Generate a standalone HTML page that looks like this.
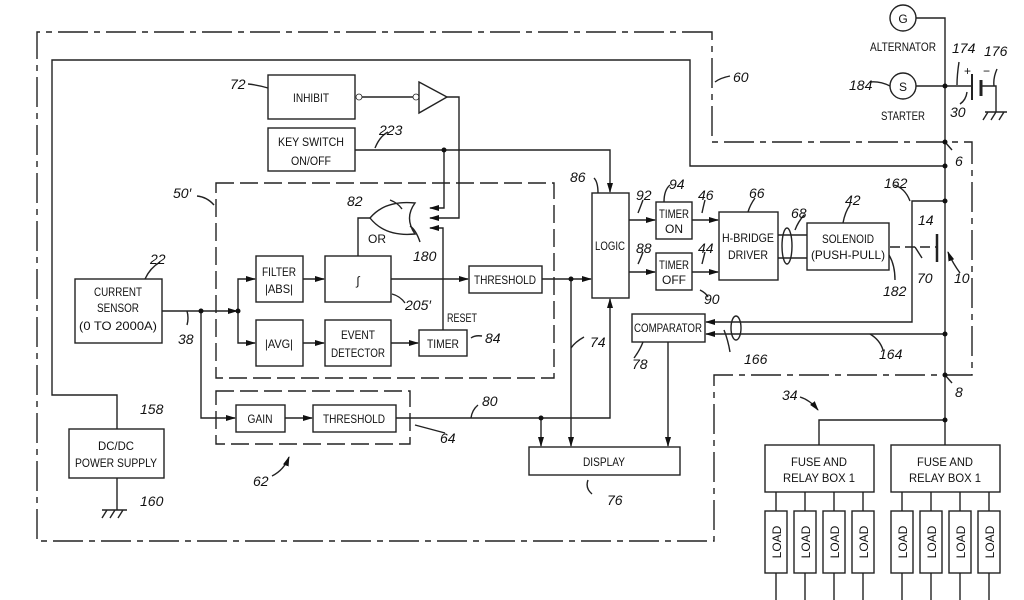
<!DOCTYPE html>
<html><head><meta charset="utf-8"><style>
html,body{margin:0;padding:0;background:#fff;}
svg{display:block}
text{font-family:"Liberation Sans Narrow","Liberation Sans",sans-serif;font-size:12px;fill:#111;}
.n{font-style:italic;font-size:14px;}
</style></head><body>
<svg width="1024" height="600" viewBox="0 0 1024 600" xmlns="http://www.w3.org/2000/svg">
<defs>
<marker id="a" markerWidth="10" markerHeight="8" refX="9" refY="4" orient="auto" markerUnits="userSpaceOnUse"><path d="M0,1 L10,4 L0,7 Z" fill="#111"/></marker>
</defs>
<g fill="none" stroke="#222" stroke-width="1.4">
<path d="M712,32 H37 V541 H714 V375 H972 V142 H712 Z" stroke-dasharray="30 6 6 6"/>
<path d="M117,429 V395 H52 V60 H690 V166 H945"/>
<path d="M916,18 H945 V445"/>
<path d="M916,86 H972 M981,86 H996 V112"/>
<path d="M972,74 V100" stroke-width="2"/>
<path d="M981,80 V96" stroke-width="3"/>
<path d="M985,112 H1007 M988,112 l-5,8 M996,112 l-5,8 M1004,112 l-5,8"/>
<circle cx="903" cy="18" r="13"/>
<circle cx="903" cy="86" r="13"/>
<path d="M945,201 H912 V322 H706" marker-end="url(#a)"/>
<path d="M945,334 H706" marker-end="url(#a)"/>
<ellipse cx="736" cy="328" rx="5" ry="12"/>
<path d="M937,234 V262" stroke-width="2.5"/>
<path d="M890,247 H937" stroke-dasharray="10 5"/>
<path d="M960,273 Q952,262 948,252" marker-end="url(#a)"/>
<rect x="268" y="75" width="87" height="44"/>
<rect x="268" y="128" width="87" height="43"/>
<circle cx="359" cy="97" r="3" stroke-width="0.8"/>
<circle cx="416" cy="97" r="3" stroke-width="0.8"/>
<path d="M362,97 H413"/>
<path d="M419,82 L447,97 L419,113 Z"/>
<path d="M447,97 H459 V218 H430" marker-end="url(#a)"/>
<path d="M355,150 H610 V192" marker-end="url(#a)"/>
<path d="M444,150 V208 H430" marker-end="url(#a)"/>
<path d="M443,330 V228 H430" marker-end="url(#a)"/>
<path d="M370,218 Q385,200 415,203 Q404,218 415,234 Q385,237 370,218 Z"/>
<path d="M370,218 H358 V256"/>
<rect x="216" y="183" width="338" height="195" stroke-dasharray="18 6"/>
<rect x="256" y="256" width="47" height="46"/>
<rect x="325" y="256" width="66" height="46"/>
<rect x="469" y="266" width="73" height="27"/>
<rect x="256" y="320" width="47" height="46"/>
<rect x="325" y="320" width="66" height="46"/>
<rect x="419" y="330" width="48" height="26"/>
<path d="M303,279 H324" marker-end="url(#a)"/>
<path d="M391,279 H468" marker-end="url(#a)"/>
<path d="M303,343 H324" marker-end="url(#a)"/>
<path d="M391,343 H418" marker-end="url(#a)"/>
<path d="M542,279 H591" marker-end="url(#a)"/>
<rect x="75" y="279" width="87" height="64"/>
<path d="M162,311 H237" marker-end="url(#a)"/>
<path d="M238,311 V279 H255" marker-end="url(#a)"/>
<path d="M238,311 V343 H255" marker-end="url(#a)"/>
<path d="M201,311 V418 H235" marker-end="url(#a)"/>
<rect x="216" y="391" width="194" height="53" stroke-dasharray="18 6"/>
<rect x="236" y="405" width="49" height="27"/>
<rect x="313" y="405" width="83" height="27"/>
<path d="M285,418 H312" marker-end="url(#a)"/>
<path d="M396,418 H610 V299" marker-end="url(#a)"/>
<path d="M541,418 V446" marker-end="url(#a)"/>
<path d="M571,279 V446" marker-end="url(#a)"/>
<path d="M668,342 V446" marker-end="url(#a)"/>
<rect x="529" y="447" width="151" height="28"/>
<rect x="592" y="193" width="37" height="105"/>
<rect x="656" y="202" width="36" height="37"/>
<rect x="656" y="253" width="36" height="37"/>
<rect x="719" y="212" width="59" height="68"/>
<rect x="807" y="223" width="82" height="47"/>
<rect x="632" y="314" width="73" height="28"/>
<path d="M629,220 H655" marker-end="url(#a)"/>
<path d="M629,272 H655" marker-end="url(#a)"/>
<path d="M692,220 H718" marker-end="url(#a)"/>
<path d="M692,272 H718" marker-end="url(#a)"/>
<path d="M778,235 H807 M778,258 H807"/>
<ellipse cx="787" cy="246" rx="5" ry="18"/>
<rect x="69" y="429" width="95" height="49"/>
<path d="M117,478 V510 M102,510 H127 M107,510 l-5,8 M115,510 l-5,8 M123,510 l-5,8"/>
<path d="M945,420 H819 V445"/>
<rect x="765" y="445" width="109" height="47"/>
<rect x="891" y="445" width="109" height="47"/>
<g>
<rect x="765" y="511" width="22" height="62"/><rect x="794" y="511" width="22" height="62"/><rect x="823" y="511" width="22" height="62"/><rect x="852" y="511" width="22" height="62"/>
<rect x="891" y="511" width="22" height="62"/><rect x="920" y="511" width="22" height="62"/><rect x="949" y="511" width="22" height="62"/><rect x="978" y="511" width="22" height="62"/>
<path d="M776,492V511M805,492V511M834,492V511M863,492V511M902,492V511M931,492V511M960,492V511M989,492V511"/>
<path d="M776,573V600M805,573V600M834,573V600M863,573V600M902,573V600M931,573V600M960,573V600M989,573V600"/>
</g>
<path d="M248,84 Q258,85 268,88 M375,148 Q380,136 388,132 M197,196 Q207,197 214,205 M390,200 Q398,203 402,209 M420,242 Q416,230 410,226 M160,262 Q150,268 145,279 M187,325 Q189,318 187,311 M392,294 Q400,296 405,303 M471,338 Q475,335 482,336 M584,337 Q575,342 571,348 M445,433 L415,425 M643,342 Q640,350 634,358 M588,480 Q585,488 592,494"/>
<path d="M471,418 Q472,410 478,405 M594,178 Q598,182 598,193 M643,200 Q640,208 638,213 M643,252 Q640,260 638,264 M670,185 Q664,190 664,202 M705,200 Q703,208 702,213 M705,252 Q703,260 702,264 M700,290 Q706,293 708,297 M755,198 Q750,205 748,212 M804,215 Q798,222 795,230 M850,205 Q845,212 843,223 M894,185 Q905,188 910,201 M895,280 Q895,265 889,255 M922,258 L915,247 M957,85 Q957,75 959,62 M960,104 Q966,100 967,92 M997,69 Q993,78 994,86 M870,82 Q880,81 890,86 M715,82 Q720,78 730,76 M945,142 L952,150 M945,375 L952,383 M730,352 Q728,340 724,330 M883,350 Q880,340 870,334"/>
<path d="M272,476 Q284,470 289,457" marker-end="url(#a)"/>
<path d="M800,397 Q810,400 818,410" marker-end="url(#a)"/>
</g>
<g fill="#111">
<circle cx="945" cy="86" r="2.5"/><circle cx="945" cy="142" r="2.5"/><circle cx="945" cy="166" r="2.5"/><circle cx="945" cy="201" r="2.5"/><circle cx="945" cy="334" r="2.5"/><circle cx="945" cy="375" r="2.5"/><circle cx="945" cy="420" r="2.5"/>
<circle cx="444" cy="150" r="2.5"/><circle cx="201" cy="311" r="2.5"/><circle cx="238" cy="311" r="2.5"/><circle cx="571" cy="279" r="2.5"/><circle cx="541" cy="418" r="2.5"/>
</g>
<g text-anchor="middle">
<text x="903" y="23" font-size="13">G</text>
<text x="903" y="91" font-size="13">S</text>
<text x="903" y="51" textLength="66" lengthAdjust="spacingAndGlyphs">ALTERNATOR</text>
<text x="903" y="120" textLength="44" lengthAdjust="spacingAndGlyphs">STARTER</text>
<text x="311" y="102" textLength="36" lengthAdjust="spacingAndGlyphs">INHIBIT</text>
<text x="311" y="146" textLength="66" lengthAdjust="spacingAndGlyphs">KEY SWITCH</text>
<text x="311" y="165" textLength="40" lengthAdjust="spacingAndGlyphs">ON/OFF</text>
<text x="279" y="276" textLength="34" lengthAdjust="spacingAndGlyphs">FILTER</text>
<text x="279" y="293" textLength="28" lengthAdjust="spacingAndGlyphs">|ABS|</text>
<text x="358" y="285" font-size="16" font-style="italic">∫</text>
<text x="505" y="284" textLength="62" lengthAdjust="spacingAndGlyphs">THRESHOLD</text>
<text x="279" y="348" textLength="28" lengthAdjust="spacingAndGlyphs">|AVG|</text>
<text x="358" y="339" textLength="34" lengthAdjust="spacingAndGlyphs">EVENT</text>
<text x="358" y="357" textLength="54" lengthAdjust="spacingAndGlyphs">DETECTOR</text>
<text x="443" y="348" textLength="32" lengthAdjust="spacingAndGlyphs">TIMER</text>
<text x="462" y="322" textLength="30" lengthAdjust="spacingAndGlyphs">RESET</text>
<text x="377" y="243">OR</text>
<text x="118" y="296" textLength="48" lengthAdjust="spacingAndGlyphs">CURRENT</text>
<text x="118" y="312" textLength="42" lengthAdjust="spacingAndGlyphs">SENSOR</text>
<text x="118" y="330" textLength="78" lengthAdjust="spacingAndGlyphs">(0 TO 2000A)</text>
<text x="260" y="423" textLength="25" lengthAdjust="spacingAndGlyphs">GAIN</text>
<text x="354" y="423" textLength="62" lengthAdjust="spacingAndGlyphs">THRESHOLD</text>
<text x="604" y="466" textLength="42" lengthAdjust="spacingAndGlyphs">DISPLAY</text>
<text x="116" y="450" textLength="36" lengthAdjust="spacingAndGlyphs">DC/DC</text>
<text x="116" y="467" textLength="82" lengthAdjust="spacingAndGlyphs">POWER SUPPLY</text>
<text x="610" y="250" textLength="30" lengthAdjust="spacingAndGlyphs">LOGIC</text>
<text x="674" y="218" textLength="30" lengthAdjust="spacingAndGlyphs">TIMER</text>
<text x="674" y="233">ON</text>
<text x="674" y="269" textLength="30" lengthAdjust="spacingAndGlyphs">TIMER</text>
<text x="674" y="284" textLength="24" lengthAdjust="spacingAndGlyphs">OFF</text>
<text x="748" y="242" textLength="52" lengthAdjust="spacingAndGlyphs">H-BRIDGE</text>
<text x="748" y="259" textLength="40" lengthAdjust="spacingAndGlyphs">DRIVER</text>
<text x="848" y="243" textLength="52" lengthAdjust="spacingAndGlyphs">SOLENOID</text>
<text x="848" y="259" textLength="74" lengthAdjust="spacingAndGlyphs">(PUSH-PULL)</text>
<text x="668" y="332" textLength="68" lengthAdjust="spacingAndGlyphs">COMPARATOR</text>
<text x="819" y="466" textLength="56" lengthAdjust="spacingAndGlyphs">FUSE AND</text>
<text x="819" y="482" textLength="72" lengthAdjust="spacingAndGlyphs">RELAY BOX 1</text>
<text x="945" y="466" textLength="56" lengthAdjust="spacingAndGlyphs">FUSE AND</text>
<text x="945" y="482" textLength="72" lengthAdjust="spacingAndGlyphs">RELAY BOX 1</text>
</g>
<g font-size="11">
<text transform="translate(781,542) rotate(-90)" text-anchor="middle">LOAD</text>
<text transform="translate(810,542) rotate(-90)" text-anchor="middle">LOAD</text>
<text transform="translate(839,542) rotate(-90)" text-anchor="middle">LOAD</text>
<text transform="translate(868,542) rotate(-90)" text-anchor="middle">LOAD</text>
<text transform="translate(907,542) rotate(-90)" text-anchor="middle">LOAD</text>
<text transform="translate(936,542) rotate(-90)" text-anchor="middle">LOAD</text>
<text transform="translate(965,542) rotate(-90)" text-anchor="middle">LOAD</text>
<text transform="translate(994,542) rotate(-90)" text-anchor="middle">LOAD</text>
</g>
<g class="n">
<text class="n" x="230" y="89">72</text>
<text class="n" x="379" y="135">223</text>
<text class="n" x="173" y="198">50′</text>
<text class="n" x="347" y="206">82</text>
<text class="n" x="413" y="261">180</text>
<text class="n" x="150" y="264">22</text>
<text class="n" x="178" y="344">38</text>
<text class="n" x="405" y="310">205′</text>
<text class="n" x="485" y="343">84</text>
<text class="n" x="590" y="347">74</text>
<text class="n" x="482" y="406">80</text>
<text class="n" x="440" y="443">64</text>
<text class="n" x="253" y="486">62</text>
<text class="n" x="140" y="414">158</text>
<text class="n" x="140" y="506">160</text>
<text class="n" x="607" y="505">76</text>
<text class="n" x="632" y="369">78</text>
<text class="n" x="570" y="182">86</text>
<text class="n" x="636" y="200">92</text>
<text class="n" x="669" y="189">94</text>
<text class="n" x="636" y="253">88</text>
<text class="n" x="698" y="200">46</text>
<text class="n" x="698" y="253">44</text>
<text class="n" x="704" y="304">90</text>
<text class="n" x="749" y="198">66</text>
<text class="n" x="791" y="218">68</text>
<text class="n" x="845" y="205">42</text>
<text class="n" x="884" y="188">162</text>
<text class="n" x="918" y="225">14</text>
<text class="n" x="917" y="283">70</text>
<text class="n" x="883" y="296">182</text>
<text class="n" x="954" y="283">10</text>
<text class="n" x="733" y="82">60</text>
<text class="n" x="952" y="53">174</text>
<text class="n" x="984" y="56">176</text>
<text class="n" x="950" y="117">30</text>
<text class="n" x="849" y="90">184</text>
<text class="n" x="955" y="166">6</text>
<text class="n" x="955" y="397">8</text>
<text class="n" x="744" y="364">166</text>
<text class="n" x="879" y="359">164</text>
<text class="n" x="782" y="400">34</text>
<text x="964" y="75" font-size="10" font-style="normal">+</text>
<text x="983" y="75" font-size="10" font-style="normal">−</text>
</g>
</svg>
</body></html>
